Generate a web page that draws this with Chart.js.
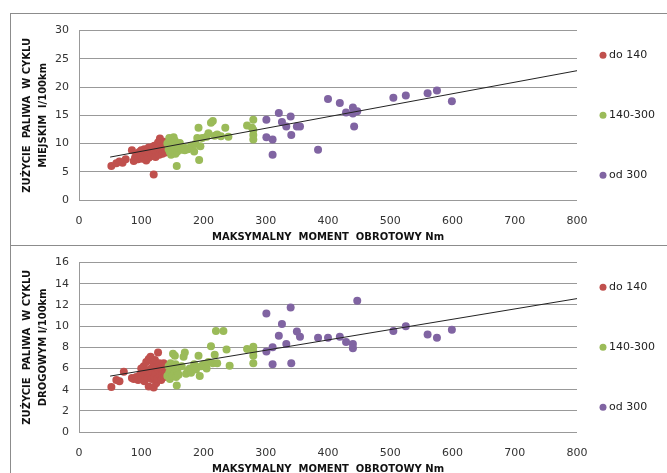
<!DOCTYPE html>
<html>
<head>
<meta charset="utf-8">
<script src="https://cdn.jsdelivr.net/npm/chart.js@4"></script>
<style>
  html, body { margin: 0; padding: 0; background: #fff; overflow: hidden; }
  .frame { position: absolute; left: 10px; width: 680px; height: 231px; border: 1px solid #8c8c8c; background: #fff; }
  #f1 { top: 13px; }
  #f2 { top: 245px; }
  canvas { display: block; }
</style>
</head>
<body>
<div class="frame" id="f1"><canvas id="cityChart" width="660" height="231"></canvas></div>
<div class="frame" id="f2"><canvas id="roadChart" width="660" height="231"></canvas></div>
<script>
// Max torque [Nm] vs fuel use [l/100km], split by torque class
const groupLabels = ['do 140', '140-300', 'od 300'];
const groupColors = ['#C0504D', '#9BBB59', '#8064A2'];

const xTicks = [0, 100, 200, 300, 400, 500, 600, 700, 800];
const xTitle = 'MAKSYMALNY  MOMENT  OBROTOWY Nm';

// city cycle
const cityLow = [[52,6.0],[60,6.5],[65,6.8],[70,6.6],[75,7.2],[85,8.8],[88,6.9],[90,7.5],[92,8.2],[95,7.2],
  [97,8.5],[100,7.8],[100,8.8],[102,7.3],[103,8.2],[105,9.0],[105,7.6],[107,8.4],[108,7.0],[110,8.0],
  [110,8.8],[112,9.3],[112,7.5],[114,8.6],[115,8.2],[116,9.0],[117,7.8],[118,9.4],[119,8.5],[120,4.5],
  [120,8.0],[121,9.6],[122,8.8],[123,7.6],[124,9.0],[125,8.3],[126,9.8],[127,10.2],[127,8.6],[128,9.2],
  [129,8.0],[130,10.9],[130,9.5],[131,8.8],[132,10.0],[133,9.0],[134,8.2],[135,9.6],[136,8.6],[137,10.3],
  [138,9.0],[139,8.4],[140,9.3]];
const cityMid = [[142,10.0],[144,9.0],[145,11.0],[146,8.5],[148,9.6],[148,8.0],[150,10.3],[151,8.8],[152,11.1],
  [153,9.3],[154,10.5],[155,8.2],[156,9.8],[157,6.0],[158,8.6],[160,9.2],[162,10.1],[165,8.9],[168,9.4],
  [170,8.8],[175,9.0],[180,9.6],[185,8.6],[187,9.9],[190,11.0],[192,12.8],[193,7.1],[195,9.5],[198,11.0],
  [205,11.2],[208,11.8],[212,13.7],[215,14.0],[218,11.4],[222,11.6],[228,11.3],[235,12.8],[240,11.2],
  [270,13.2],[278,12.8],[280,14.2],[280,12.4],[280,11.5],[280,10.7]];
const cityHigh = [[301,14.2],[301,11.1],[311,10.7],[311,8.0],[321,15.4],[326,13.8],[333,13.0],[340,14.8],
  [341,11.5],[350,13.0],[355,13.0],[384,8.9],[400,17.9],[419,17.2],[429,15.5],[440,16.4],[440,15.3],
  [442,13.0],[447,15.7],[505,18.1],[525,18.5],[560,18.9],[575,19.4],[599,17.5]];
const cityTrend = [[50,7.6],[800,22.9]];

// road cycle
const roadLow = [[52,4.25],[60,4.9],[65,4.8],[72,5.7],[85,5.1],[88,5.0],[92,5.2],[95,4.9],[98,5.4],[100,6.0],
  [100,5.0],[102,5.6],[104,6.2],[105,4.8],[106,5.3],[108,6.6],[109,5.8],[110,5.1],[112,4.3],[112,6.9],
  [114,5.5],[115,7.1],[116,6.0],[117,5.0],[118,5.7],[120,4.2],[120,6.4],[121,5.2],[122,6.8],[123,5.5],
  [124,4.6],[125,6.1],[126,5.0],[127,7.5],[128,5.8],[129,6.5],[130,5.3],[131,6.0],[132,4.9],[133,6.3],
  [134,5.6],[135,5.9],[136,6.5],[137,5.2],[138,6.1],[139,5.6],[140,6.3]];
const roadMid = [[142,5.3],[144,6.2],[145,5.6],[146,5.0],[147,6.5],[148,5.8],[150,5.3],[151,7.4],[152,6.0],
  [153,5.5],[154,7.2],[155,6.4],[156,5.2],[157,4.4],[158,5.7],[160,5.4],[165,6.2],[168,7.1],[170,7.5],
  [172,5.5],[175,5.8],[178,6.0],[180,5.6],[185,6.4],[188,5.9],[192,7.2],[194,5.3],[196,6.2],[200,6.4],
  [205,6.0],[208,6.6],[212,8.1],[215,6.5],[218,7.3],[220,9.55],[222,6.5],[232,9.55],[237,7.8],[242,6.25],
  [270,7.85],[280,8.05],[280,7.6],[280,7.2],[280,6.5]];
const roadHigh = [[301,11.2],[301,7.6],[311,8.0],[311,6.4],[321,9.1],[326,10.2],[333,8.3],[340,11.75],
  [341,6.5],[350,9.5],[355,9.0],[384,8.9],[400,8.9],[419,9.0],[429,8.5],[440,8.3],[440,7.9],[447,12.4],
  [505,9.55],[525,10.0],[560,9.2],[575,8.9],[599,9.65]];
const roadTrend = [[50,5.28],[800,12.6]];

const toPts = arr => arr.map(([x, y]) => ({ x, y }));

Chart.defaults.font.family = '"DejaVu Sans"';
Chart.defaults.font.size = 11;
Chart.defaults.color = '#333';

// legend drawn in a column right of the plot
const sideLegend = {
  id: 'sideLegend',
  afterDraw(chart) {
    const { ctx, chartArea } = chart;
    const mid = (chartArea.top + chartArea.bottom) / 2;
    ctx.save();
    ctx.font = '11px "DejaVu Sans"';
    ctx.textBaseline = 'middle';
    chart.data.datasets.filter(d => d.label).forEach((d, i) => {
      const y = mid + (i - 1) * 60;
      ctx.fillStyle = d.backgroundColor;
      ctx.beginPath();
      ctx.arc(chartArea.right + 26, y, 3.5, 0, Math.PI * 2);
      ctx.fill();
      ctx.fillStyle = '#222';
      ctx.fillText(d.label, chartArea.right + 32, y);
    });
    ctx.restore();
  }
};

function makeChart(id, groups, trend, yMax, yStep, yTitle) {
  const datasets = groups.map((g, i) => ({
    type: 'scatter',
    label: groupLabels[i],
    data: toPts(g),
    backgroundColor: groupColors[i],
    borderWidth: 0,
    pointRadius: 4,
    order: 3 - i
  }));
  datasets.push({
    type: 'line',
    label: '',
    data: toPts(trend),
    borderColor: '#222',
    borderWidth: 1,
    pointRadius: 0,
    fill: false,
    order: 0
  });

  return new Chart(document.getElementById(id), {
    type: 'scatter',
    data: { datasets },
    options: {
      responsive: false,
      animation: false,
      layout: { padding: { left: 0, top: 9, right: 94, bottom: 0 } },
      plugins: { legend: { display: false }, tooltip: { enabled: false } },
      scales: {
        x: {
          type: 'linear',
          min: 0, max: 800,
          afterBuildTicks: s => { s.ticks = xTicks.map(v => ({ value: v })); },
          afterFit: s => { s.height = 45; },
          grid: { display: false },
          border: { display: false },
          ticks: { padding: 7, color: '#333' },
          title: {
            display: true, text: xTitle, color: '#111',
            font: { size: 10, weight: 'bold' },
            padding: { top: 0, bottom: 2 }
          }
        },
        y: {
          min: 0, max: yMax,
          afterFit: s => { s.width = 68; },
          ticks: { stepSize: yStep, padding: 10, color: '#333' },
          grid: { color: '#999', drawTicks: false },
          border: { display: true, color: '#999' },
          title: {
            display: true, text: yTitle, color: '#111',
            font: { size: 10, weight: 'bold', lineHeight: 1.6 },
            padding: { top: 8, bottom: 0 }
          }
        }
      }
    },
    plugins: [sideLegend]
  });
}

makeChart('cityChart', [cityLow, cityMid, cityHigh], cityTrend, 30, 5,
  ['ZUŻYCIE  PALIWA  W CYKLU', 'MIEJSKIM  l/100km']);
makeChart('roadChart', [roadLow, roadMid, roadHigh], roadTrend, 16, 2,
  ['ZUŻYCIE  PALIWA  W CYKLU', 'DROGOWYM l/100km']);
</script>
</body>
</html>
